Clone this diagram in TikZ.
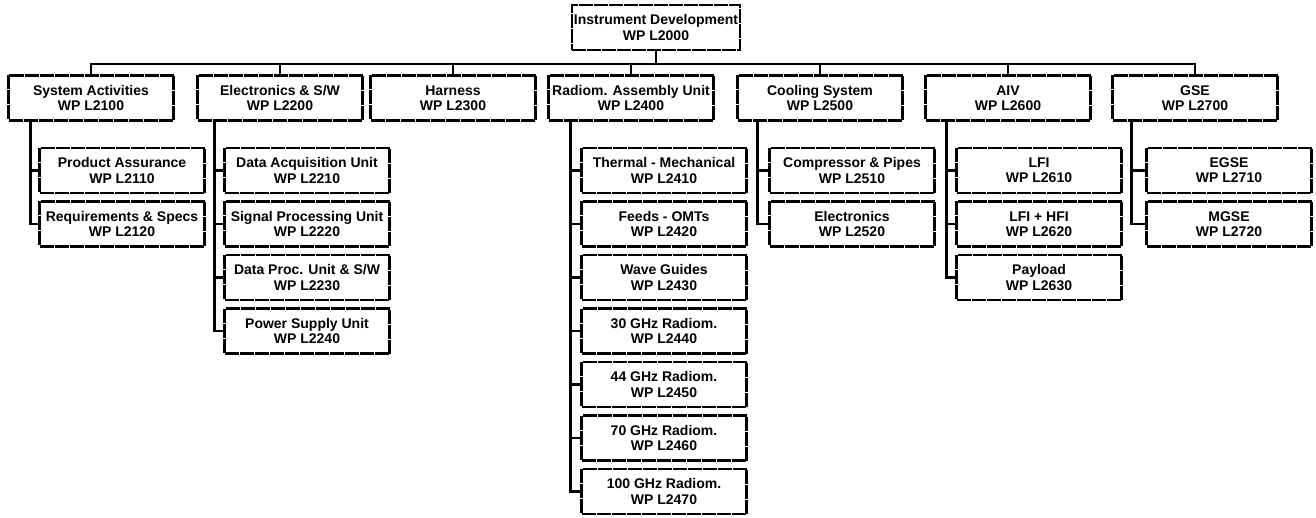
\documentclass[tikz,border=0pt]{standalone}
\usepackage{fontspec}
\setmainfont{Liberation Sans}
\usetikzlibrary{positioning}

\begin{document}
\begin{tikzpicture}[x=0.5pt, y=-0.5pt, node distance=26.75pt,
    every node/.style={fill=white, font=\fontsize{7}{7.6}\selectfont\bfseries},
    wp/.style={rectangle, draw, line width=1.1pt, dash pattern=on 7pt off 0.5pt, align=center, minimum width=82.5pt, minimum height=22.5pt, inner sep=1pt},
    link/.style={line width=1.3pt}]

\useasboundingbox (0,0) rectangle (1316,518);

% Top
\node[wp] (root) at (656,27.5) {Instrument Development\\WP L2000};

% Level 1
\node[wp] (sys) at (91,98) {System Activities\\WP L2100};
\node[wp] (elec) at (280,98) {Electronics \& S/W\\WP L2200};
\node[wp] (harn) at (453,98) {Harness\\WP L2300};
\node[wp] (rau) at (631,98) {Radiom. Assembly Unit\\WP L2400};
\node[wp] (cool) at (820,98) {Cooling System\\WP L2500};
\node[wp] (aiv) at (1008,98) {AIV\\WP L2600};
\node[wp] (gse) at (1195,98) {GSE\\WP L2700};

% System activities
\node[wp, below of=sys, node distance=36.25pt, xshift=15.5pt] (pa) {Product Assurance\\WP L2110};
\node[wp, below of=pa] (req) {Requirements \& Specs\\WP L2120};

% Electronics
\node[wp, below of=elec, node distance=36.25pt, xshift=13.5pt] (dau) {Data Acquisition Unit\\WP L2210};
\node[wp, below of=dau] (spu) {Signal Processing Unit\\WP L2220};
\node[wp, below of=spu] (dpu) {Data Proc. Unit \& S/W\\WP L2230};
\node[wp, below of=dpu] (psu) {Power Supply Unit\\WP L2240};

% Radiometer assembly
\node[wp, below of=rau, node distance=36.25pt, xshift=16.5pt] (thm) {Thermal - Mechanical\\WP L2410};
\node[wp, below of=thm] (feed) {Feeds - OMTs\\WP L2420};
\node[wp, below of=feed] (wg) {Wave Guides\\WP L2430};
\node[wp, below of=wg] (r30) {30 GHz Radiom.\\WP L2440};
\node[wp, below of=r30] (r44) {44 GHz Radiom.\\WP L2450};
\node[wp, below of=r44] (r70) {70 GHz Radiom.\\WP L2460};
\node[wp, below of=r70] (r100) {100 GHz Radiom.\\WP L2470};

% Cooling
\node[wp, below of=cool, node distance=36.25pt, xshift=16pt] (comp) {Compressor \& Pipes\\WP L2510};
\node[wp, below of=comp] (celec) {Electronics\\WP L2520};

% AIV
\node[wp, below of=aiv, node distance=36.25pt, xshift=15.5pt] (lfi) {LFI\\WP L2610};
\node[wp, below of=lfi] (lhfi) {LFI + HFI\\WP L2620};
\node[wp, below of=lhfi] (pay) {Payload\\WP L2630};

% GSE
\node[wp, below of=gse, node distance=36.25pt, xshift=17pt] (egse) {EGSE\\WP L2710};
\node[wp, below of=egse] (mgse) {MGSE\\WP L2720};

% Bus
\draw[link] (root.south) -- ++(0,-6.5pt) -| (sys.north);
\draw[link] (root.south) -- ++(0,-6.5pt) -| (elec.north);
\draw[link] (root.south) -- ++(0,-6.5pt) -| (harn.north);
\draw[link] (root.south) -- ++(0,-6.5pt) -| (rau.north);
\draw[link] (root.south) -- ++(0,-6.5pt) -| (cool.north);
\draw[link] (root.south) -- ++(0,-6.5pt) -| (aiv.north);
\draw[link] (root.south) -- ++(0,-6.5pt) -| (gse.north);

% Branches
\draw[link] ([xshift=11.5pt]sys.south west) |- (pa.west);
\draw[link] ([xshift=11.5pt]sys.south west) |- (req.west);
\draw[link] ([xshift=9pt]elec.south west) |- (dau.west);
\draw[link] ([xshift=9pt]elec.south west) |- (spu.west);
\draw[link] ([xshift=9pt]elec.south west) |- (dpu.west);
\draw[link] ([xshift=9pt]elec.south west) |- (psu.west);
\draw[link] ([xshift=11.5pt]rau.south west) |- (thm.west);
\draw[link] ([xshift=11.5pt]rau.south west) |- (feed.west);
\draw[link] ([xshift=11.5pt]rau.south west) |- (wg.west);
\draw[link] ([xshift=11.5pt]rau.south west) |- (r30.west);
\draw[link] ([xshift=11.5pt]rau.south west) |- (r44.west);
\draw[link] ([xshift=11.5pt]rau.south west) |- (r70.west);
\draw[link] ([xshift=11.5pt]rau.south west) |- (r100.west);
\draw[link] ([xshift=10.5pt]cool.south west) |- (comp.west);
\draw[link] ([xshift=10.5pt]cool.south west) |- (celec.west);
\draw[link] ([xshift=11pt]aiv.south west) |- (lfi.west);
\draw[link] ([xshift=11pt]aiv.south west) |- (lhfi.west);
\draw[link] ([xshift=11pt]aiv.south west) |- (pay.west);
\draw[link] ([xshift=10pt]gse.south west) |- (egse.west);
\draw[link] ([xshift=10pt]gse.south west) |- (mgse.west);

\end{tikzpicture}
\end{document}
